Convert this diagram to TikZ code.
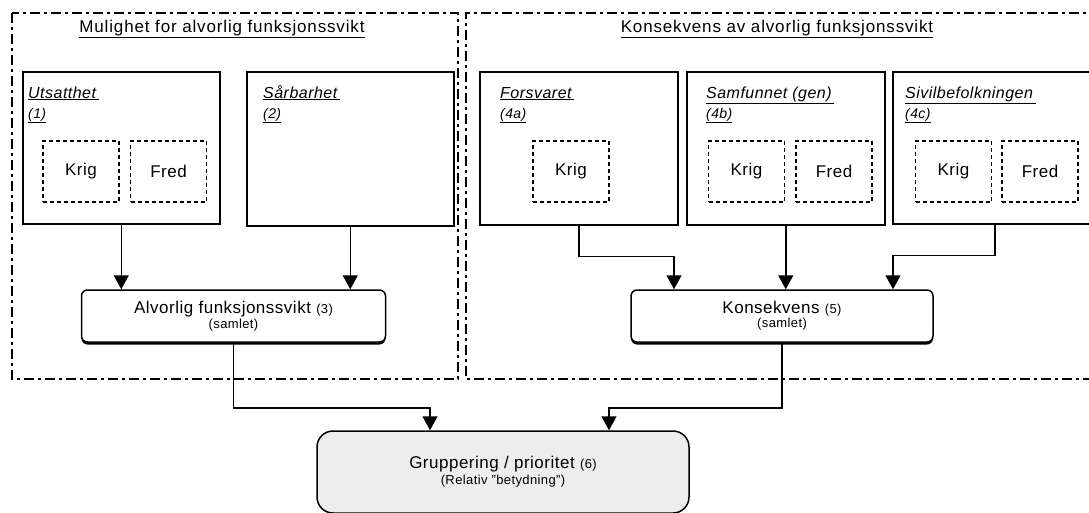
\documentclass[tikz,border=0pt]{standalone}
\usepackage{fontspec}
\setmainfont{Liberation Sans}[LetterSpace=3]
\newfontfamily\headfont{Liberation Sans}[LetterSpace=5]
\usetikzlibrary{arrows.meta,shadows,calc}
\begin{document}
\begin{tikzpicture}[x=1pt,y=-1pt,
  box/.style={draw, line width=1.5pt, anchor=north west, inner sep=0pt},
  kf/.style={draw, line width=1.3pt, dash pattern=on 4pt off 3pt, minimum width=76pt, minimum height=61pt, inner sep=0pt, font=\fontsize{17}{20}\selectfont},
  outer/.style={line width=1.3pt, dash pattern=on 10pt off 4pt on 3pt off 4pt},
  ttl/.style={anchor=base west, inner sep=0pt, font=\fontsize{16}{19}\selectfont\itshape},
  num/.style={anchor=base west, inner sep=0pt, font=\fontsize{14}{16}\selectfont\itshape},
  rbox/.style={draw, line width=1.5pt, rounded corners=6pt, fill=white, align=center, inner sep=0pt,
    drop shadow={shadow xshift=0pt, shadow yshift=-2.5pt, opacity=1, fill=black}},
  gbox/.style={draw, line width=1.5pt, rounded corners=16pt, fill=black!7, align=center, inner sep=0pt},
  arr/.style={line width=1.5pt, -{Triangle[length=14pt,width=15pt]}},
  head/.style={font=\headfont\fontsize{17}{20}\selectfont, inner sep=0pt}
]
\useasboundingbox (0,0) rectangle (1089,512);

% outer dashed areas
\draw[outer] (12,13) rectangle (458,379);
\draw[outer] (1100,13) -- (466,13) -- (466,379) -- (1100,379);

\node[head] (t1) at (222,29) {\underline{Mulighet for alvorlig funksjonssvikt}};
\node[head] (t2) at (777,29) {\underline{Konsekvens av alvorlig funksjonssvikt}};

% left boxes
\node[box, minimum width=197pt, minimum height=152pt] (uts) at (22,71) {};
\node[box, minimum width=207pt, minimum height=154pt] (sar) at (246,71) {};
\node[ttl] (utsl) at (28,98) {\underline{Utsatthet\,}};
\node[num] (utsn) at (28,118) {\underline{(1)}};
\node[ttl] (sarl) at (263,98) {\underline{Sårbarhet\,}};
\node[num] (sarn) at (263,118) {\underline{(2)}};
\node[kf] (uk) at (81,171.5) {Krig};
\node[kf] (uf) at (168.5,171.5) {Fred};

% right boxes
\node[box, minimum width=198pt, minimum height=153pt] (fors) at (479,71) {};
\node[box, minimum width=198pt, minimum height=153pt] (samf) at (686,71) {};
\node[box, minimum width=204pt, minimum height=152pt] (siv) at (892,71) {};
\node[ttl] (forsl) at (500,98) {\underline{Forsvaret\,}};
\node[num] (forsn) at (500,118) {\underline{(4a)}};
\node[ttl] (samfl) at (706,98) {\underline{Samfunnet (gen)\,}};
\node[num] (samfn) at (706,118) {\underline{(4b)}};
\node[ttl] (sivl) at (905,98) {\underline{Sivilbefolkningen\,}};
\node[num] (sivn) at (905,118) {\underline{(4c)}};
\node[kf] (fk) at (571,171.5) {Krig};
\node[kf] (sk) at (746.5,171.5) {Krig};
\node[kf] (sf) at (834,171.5) {Fred};
\node[kf] (vk) at (953.5,171.5) {Krig};
\node[kf] (vf) at (1040,171.5) {Fred};

% rounded boxes
\node[rbox, minimum width=304pt, minimum height=52pt] (alv) at (233.5,316)
  {{\fontsize{17}{20}\selectfont Alvorlig funksjonssvikt {\fontsize{13}{15}\selectfont(3)}}\\[1pt]
   {\fontsize{13}{15}\selectfont (samlet)}};
\node[rbox, minimum width=302pt, minimum height=52pt] (kons) at (782,316)
  {{\fontsize{17}{20}\selectfont Konsekvens {\fontsize{13}{15}\selectfont(5)}}\\[1pt]
   {\fontsize{13}{15}\selectfont (samlet)}};
\node[gbox, minimum width=372pt, minimum height=82pt] (grup) at (503,472)
  {{\fontsize{17}{20}\selectfont Gruppering / prioritet {\fontsize{13}{15}\selectfont(6)}}\\[2pt]
   {\fontsize{13}{15}\selectfont (Relativ "betydning")}};

% connectors
\draw[arr] (uts.south) -- (uts.south |- alv.north);
\draw[arr] (sar.south) -- (sar.south |- alv.north);
\draw[arr] (fors.south) -- ++(0,31) -| ([xshift=-108pt]kons.north);
\draw[arr] (samf.south) -- (samf.south |- kons.north);
\draw[arr] (siv.south) -- ++(0,31) -| ([xshift=111pt]kons.north);
\draw[arr] (alv.south) -- ++(0,65) -| ([xshift=-73pt]grup.north);
\draw[arr] (kons.south) -- ++(0,65) -| ([xshift=106pt]grup.north);
\end{tikzpicture}
\end{document}
